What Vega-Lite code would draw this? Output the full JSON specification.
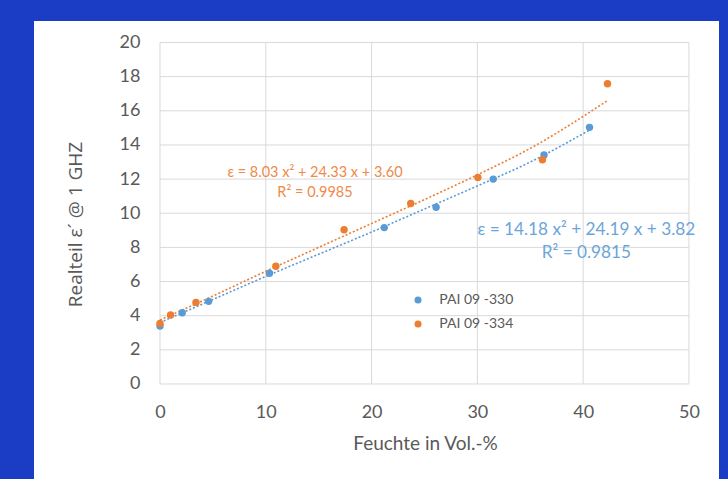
{
  "$schema": "https://vega.github.io/schema/vega-lite/v6.json",
  "width": 685,
  "height": 458,
  "autosize": {"type": "none"},
  "padding": {"left": 34, "top": 21, "right": 9, "bottom": 0},
  "background": "#1B3CC4",
  "config": {
    "view": {"stroke": null, "fill": "white"},
    "font": "Lato",
    "axis": {
      "grid": false,
      "domain": false,
      "ticks": false,
      "labelColor": "#595959",
      "labelFontSize": 18,
      "labelFont": "Lato",
      "titleColor": "#595959",
      "titleFontWeight": "normal",
      "labelFlush": false,
      "labelOverlap": false
    }
  },
  "datasets": {
    "points": [
      {"series": "PAI 09 -330", "x": 0, "y": 3.4},
      {"series": "PAI 09 -330", "x": 2.1, "y": 4.17},
      {"series": "PAI 09 -330", "x": 4.6, "y": 4.84},
      {"series": "PAI 09 -330", "x": 10.35, "y": 6.49},
      {"series": "PAI 09 -330", "x": 21.2, "y": 9.16},
      {"series": "PAI 09 -330", "x": 26.1, "y": 10.35},
      {"series": "PAI 09 -330", "x": 31.5, "y": 12.0},
      {"series": "PAI 09 -330", "x": 36.3, "y": 13.41},
      {"series": "PAI 09 -330", "x": 40.6, "y": 15.03},
      {"series": "PAI 09 -334", "x": 0, "y": 3.55},
      {"series": "PAI 09 -334", "x": 1.0, "y": 4.04},
      {"series": "PAI 09 -334", "x": 3.4, "y": 4.78},
      {"series": "PAI 09 -334", "x": 10.95, "y": 6.9},
      {"series": "PAI 09 -334", "x": 17.4, "y": 9.03},
      {"series": "PAI 09 -334", "x": 23.7, "y": 10.57},
      {"series": "PAI 09 -334", "x": 30.05, "y": 12.1},
      {"series": "PAI 09 -334", "x": 36.15, "y": 13.13},
      {"series": "PAI 09 -334", "x": 42.3, "y": 17.58}
    ],
    "trend": [
      {"fit": "PAI 09 -330", "x": 0, "y": 3.6},
      {"fit": "PAI 09 -330", "x": 5, "y": 4.95},
      {"fit": "PAI 09 -330", "x": 10, "y": 6.3},
      {"fit": "PAI 09 -330", "x": 15, "y": 7.6},
      {"fit": "PAI 09 -330", "x": 20, "y": 8.9},
      {"fit": "PAI 09 -330", "x": 25, "y": 10.25},
      {"fit": "PAI 09 -330", "x": 30, "y": 11.6},
      {"fit": "PAI 09 -330", "x": 35, "y": 13.0},
      {"fit": "PAI 09 -330", "x": 40.6, "y": 14.87},
      {"fit": "PAI 09 -334", "x": 0, "y": 3.75},
      {"fit": "PAI 09 -334", "x": 5, "y": 5.15},
      {"fit": "PAI 09 -334", "x": 10, "y": 6.6},
      {"fit": "PAI 09 -334", "x": 15, "y": 8.0},
      {"fit": "PAI 09 -334", "x": 20, "y": 9.4},
      {"fit": "PAI 09 -334", "x": 25, "y": 10.8},
      {"fit": "PAI 09 -334", "x": 30, "y": 12.25},
      {"fit": "PAI 09 -334", "x": 35, "y": 13.8},
      {"fit": "PAI 09 -334", "x": 42.3, "y": 16.6}
    ],
    "gridx": [
      {"x": 0, "y": 0, "yend": 20}, {"x": 10, "y": 0, "yend": 20}, {"x": 20, "y": 0, "yend": 20},
      {"x": 30, "y": 0, "yend": 20}, {"x": 40, "y": 0, "yend": 20}, {"x": 50, "y": 0, "yend": 20}
    ],
    "gridy": [
      {"y": 0, "x": 0, "xend": 50}, {"y": 2, "x": 0, "xend": 50}, {"y": 4, "x": 0, "xend": 50},
      {"y": 6, "x": 0, "xend": 50}, {"y": 8, "x": 0, "xend": 50}, {"y": 10, "x": 0, "xend": 50},
      {"y": 12, "x": 0, "xend": 50}, {"y": 14, "x": 0, "xend": 50}, {"y": 16, "x": 0, "xend": 50},
      {"y": 18, "x": 0, "xend": 50}, {"y": 20, "x": 0, "xend": 50}
    ],
    "legend": [
      {"series": "PAI 09 -330", "x": 24.39, "y": 4.92, "lx": 26.4},
      {"series": "PAI 09 -334", "x": 24.39, "y": 3.51, "lx": 26.4}
    ],
    "labelsOrange": [
      {"x": 14.65, "y": 12.38, "label": "ε = 8.03 x² + 24.33 x + 3.60"},
      {"x": 14.65, "y": 11.2, "label": "R² = 0.9985"}
    ],
    "labelsBlue": [
      {"x": 40.3, "y": 9.03, "label": "ε = 14.18 x² + 24.19 x + 3.82"},
      {"x": 40.3, "y": 7.68, "label": "R² = 0.9815"}
    ]
  },
  "encoding": {
    "x": {
      "field": "x", "type": "quantitative",
      "scale": {"domain": [-11.91, 52.84], "nice": false, "zero": false},
      "axis": {"values": [0, 10, 20, 30, 40, 50], "offset": -95, "title": "Feuchte in Vol.-%", "titleFontSize": 19, "titleFont": "Lato", "labelPadding": 19, "titlePadding": 13, "titleX": 391, "labelOverlap": false}
    },
    "y": {
      "field": "y", "type": "quantitative",
      "scale": {"domain": [-5.564, 21.259], "nice": false, "zero": false},
      "axis": {"values": [0, 2, 4, 6, 8, 10, 12, 14, 16, 18, 20], "offset": -126, "title": "Realteil  ε´ @ 1 GHZ", "titleFontSize": 19, "titleFont": "Open Sans", "labelPadding": 20, "titlePadding": 34, "titleY": 203, "labelOverlap": false}
    }
  },
  "layer": [
    {
      "data": {"name": "gridx"},
      "mark": {"type": "rule", "color": "#D9D9D9", "strokeWidth": 1},
      "encoding": {"y2": {"field": "yend"}}
    },
    {
      "data": {"name": "gridy"},
      "mark": {"type": "rule", "color": "#D9D9D9", "strokeWidth": 1},
      "encoding": {"x2": {"field": "xend"}}
    },
    {
      "data": {"values": [{}]},
      "mark": {"type": "rect", "color": "white"},
      "encoding": {
        "x": {"datum": 6.1, "type": "quantitative"},
        "x2": {"datum": 23.2},
        "y": {"datum": 13.1, "type": "quantitative"},
        "y2": {"datum": 10.65}
      }
    },
    {
      "data": {"name": "trend"},
      "mark": {"type": "line", "strokeWidth": 1.6, "strokeDash": [2, 2], "interpolate": "monotone"},
      "encoding": {
        "detail": {"field": "fit"},
        "stroke": {"field": "fit", "type": "nominal", "scale": {"domain": ["PAI 09 -330", "PAI 09 -334"], "range": ["#5B9BD5", "#ED7D31"]}, "legend": null}
      }
    },
    {
      "data": {"name": "points"},
      "mark": {"type": "circle", "opacity": 1, "size": 55},
      "encoding": {
        "fill": {
          "field": "series", "type": "nominal",
          "scale": {"domain": ["PAI 09 -330", "PAI 09 -334"], "range": ["#5B9BD5", "#ED7D31"]},
          "legend": null
        }
      }
    },
    {
      "data": {"name": "legend"},
      "mark": {"type": "circle", "opacity": 1, "size": 50},
      "encoding": {
        "fill": {"field": "series", "type": "nominal", "legend": null}
      }
    },
    {
      "data": {"name": "legend"},
      "mark": {"type": "text", "align": "left", "baseline": "middle", "color": "#595959", "fontSize": 14, "font": "Lato"},
      "encoding": {
        "x": {"field": "lx", "type": "quantitative"},
        "text": {"field": "series"}
      }
    },
    {
      "data": {"name": "labelsOrange"},
      "mark": {"type": "text", "color": "#EE8A4A", "fontSize": 14.5, "font": "Lato"},
      "encoding": {"text": {"field": "label"}}
    },
    {
      "data": {"name": "labelsBlue"},
      "mark": {"type": "text", "color": "#6BA5DA", "fontSize": 17.2, "font": "Lato"},
      "encoding": {"text": {"field": "label"}}
    }
  ]
}
